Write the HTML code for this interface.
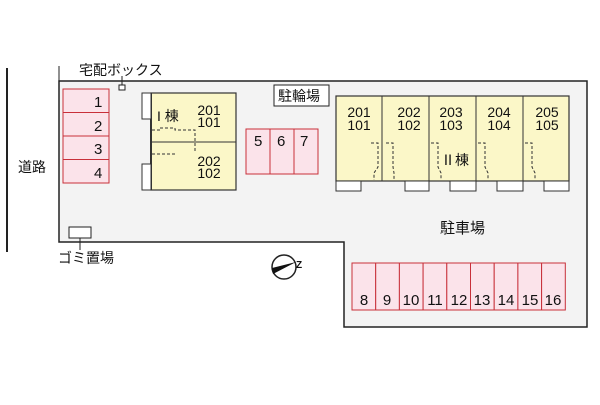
<!DOCTYPE html>
<html><head><meta charset="utf-8"><style>
body{margin:0;background:#fff}
svg text{font-family:"Liberation Sans","Noto Sans CJK JP",sans-serif;fill:#111}
</style></head><body>
<svg width="600" height="400" viewBox="0 0 600 400">
<line x1="7" y1="68" x2="7" y2="252" stroke="#222" stroke-width="2"/>
<text x="18" y="172" font-size="14">道路</text>
<path d="M59,81 H587 V327 H344 V242 H59 Z" fill="#f3f3f3" stroke="#222" stroke-width="1.5"/>
<line x1="59" y1="66" x2="59" y2="81" stroke="#222" stroke-width="1"/>
<text x="79" y="75" font-size="14">宅配ボックス</text>
<line x1="122" y1="76" x2="122" y2="85" stroke="#222"/>
<rect x="119" y="85" width="6" height="5" fill="#fff" stroke="#222"/>
<g fill="#fbe3ea" stroke="#c8303a" stroke-width="1">
<rect x="63" y="89" width="46" height="23.5"/><rect x="63" y="112.5" width="46" height="23.5"/>
<rect x="63" y="136" width="46" height="23.5"/><rect x="63" y="159.5" width="46" height="23.5"/>
</g>
<g font-size="15"><text x="94" y="107">1</text><text x="94" y="131">2</text><text x="94" y="154">3</text><text x="94" y="178">4</text></g>
<rect x="151" y="93" width="85" height="97" fill="#fbf7c8" stroke="#333" stroke-width="1.2"/>
<line x1="151" y1="142" x2="236" y2="142" stroke="#333"/>
<line x1="151" y1="93" x2="151" y2="190" stroke="#333" stroke-width="2"/>
<rect x="142" y="93" width="9" height="26" fill="#fff" stroke="#333"/>
<rect x="142" y="164" width="9" height="26" fill="#fff" stroke="#333"/>
<path d="M152,130 H160 V128 H175 V130 H195 V153 M152,154 H175 V156" fill="none" stroke="#333" stroke-dasharray="3,2"/>
<text x="157" y="121" font-size="14">I 棟</text>
<g font-size="14" text-anchor="middle"><text x="209" y="115">201</text><text x="209" y="127">101</text><text x="209" y="166">202</text><text x="209" y="178">102</text></g>
<g fill="#fbe3ea" stroke="#c8303a"><rect x="246" y="129" width="24" height="45"/><rect x="270" y="129" width="24" height="45"/><rect x="294" y="129" width="24" height="45"/></g>
<g font-size="15"><text x="254" y="146">5</text><text x="277" y="146">6</text><text x="300" y="146">7</text></g>
<rect x="274" y="85" width="55" height="21" fill="#fff" stroke="#222"/>
<text x="278" y="101" font-size="14">駐輪場</text>
<rect x="336" y="96" width="233" height="85" fill="#fbf7c8" stroke="#333" stroke-width="1.2"/>
<g stroke="#333"><line x1="382" y1="96" x2="382" y2="181"/><line x1="429" y1="96" x2="429" y2="181"/><line x1="476" y1="96" x2="476" y2="181"/><line x1="523" y1="96" x2="523" y2="181"/></g>
<g fill="#fff" stroke="#333"><rect x="336" y="181" width="25" height="10"/><rect x="405" y="181" width="24" height="10"/><rect x="450" y="181" width="26" height="10"/><rect x="497" y="181" width="26" height="10"/><rect x="544" y="181" width="25" height="10"/></g>
<g fill="none" stroke="#333" stroke-dasharray="3,2">
<path d="M371,143 H378 V167 L374,173 V180"/><path d="M386,143 H393 V167 L394,173 V180"/>
<path d="M431,143 H438 V167 L441,173 V180"/><path d="M478,143 H485 V167 L488,173 V180"/><path d="M525,143 H532 V167 L535,173 V180"/>
</g>
<g font-size="14" text-anchor="middle">
<text x="359" y="117">201</text><text x="359" y="130">101</text>
<text x="409" y="117">202</text><text x="409" y="130">102</text>
<text x="451" y="117">203</text><text x="451" y="130">103</text>
<text x="499" y="117">204</text><text x="499" y="130">104</text>
<text x="547" y="117">205</text><text x="547" y="130">105</text>
</g>
<text x="441" y="165" font-size="14">Ⅱ棟</text>
<text x="440" y="233" font-size="15">駐車場</text>
<g fill="#fbe3ea" stroke="#c8303a">
<rect x="352" y="263" width="23.7" height="47"/><rect x="375.7" y="263" width="23.7" height="47"/><rect x="399.4" y="263" width="23.7" height="47"/><rect x="423.1" y="263" width="23.7" height="47"/><rect x="446.8" y="263" width="23.7" height="47"/><rect x="470.5" y="263" width="23.7" height="47"/><rect x="494.2" y="263" width="23.7" height="47"/><rect x="517.9" y="263" width="23.7" height="47"/><rect x="541.6" y="263" width="23.7" height="47"/>
</g>
<g font-size="15" text-anchor="middle"><text x="364" y="305">8</text><text x="387" y="305">9</text><text x="411" y="305">10</text><text x="435" y="305">11</text><text x="459" y="305">12</text><text x="482" y="305">13</text><text x="506" y="305">14</text><text x="530" y="305">15</text><text x="553" y="305">16</text></g>
<rect x="69" y="227" width="22" height="11" fill="#fff" stroke="#222"/>
<line x1="80" y1="238" x2="80" y2="250" stroke="#222"/>
<text x="58" y="263" font-size="14">ゴミ置場</text>
<circle cx="284" cy="267" r="12" fill="#fff" stroke="#222" stroke-width="1.5"/>
<path d="M272,268 L296,262 L273,274 Z" fill="#111"/>
<text x="296" y="268" font-size="10" font-weight="bold">Z</text>
</svg>
</body></html>
